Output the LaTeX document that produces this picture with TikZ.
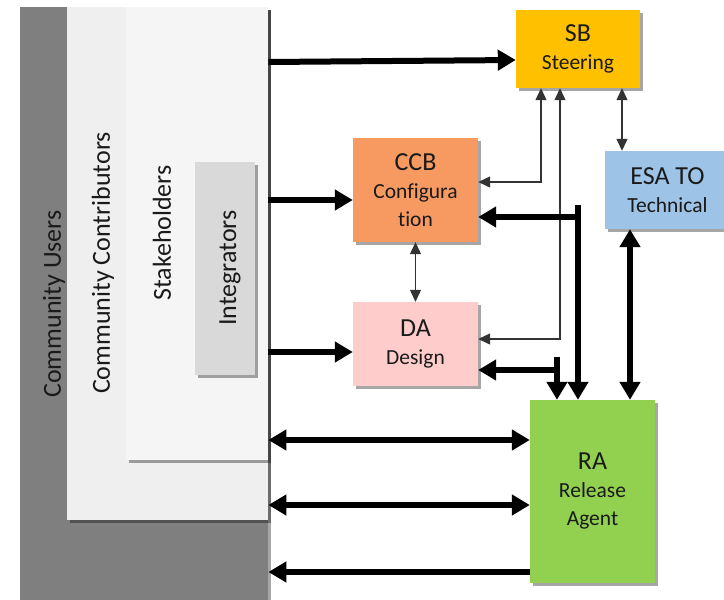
\documentclass[tikz,border=0pt]{standalone}
\usepackage{fontspec}
\setmainfont{Carlito}[Ligatures=NoCommon]
\usetikzlibrary{arrows.meta,shadows,calc}
\definecolor{usersc}{HTML}{7F7F7F}
\definecolor{contribc}{HTML}{EFEFEF}
\definecolor{stakec}{HTML}{F5F5F5}
\definecolor{integc}{HTML}{D9D9D9}
\definecolor{sbc}{HTML}{FFC000}
\definecolor{ccbc}{HTML}{F79A62}
\definecolor{esac}{HTML}{9DC3E6}
\definecolor{dac}{HTML}{FFCCCC}
\definecolor{rac}{HTML}{92D050}
\definecolor{txtc}{HTML}{1A1A1A}
\newcommand\bigtxt{\fontsize{26}{28}\selectfont}
\newcommand\smtxt{\fontsize{21.5}{28}\selectfont}
\newcommand\lbltxt{\fontsize{26}{28}\selectfont}
\begin{document}
\begin{tikzpicture}[x=1pt,y=-1pt,
  shad/.style={drop shadow={shadow xshift=3pt,shadow yshift=-3pt,fill=black,opacity=0.35}},
  lbox/.style={shad,draw=none,inner sep=0pt,anchor=north west},
  rbox/.style={shad,draw=none,inner sep=0pt,align=center,text=txtc,font=\smtxt},
  lbl/.style={rotate=90,text=txtc,font=\lbltxt,inner sep=0pt},
  thk/.style={line width=6pt,-{Triangle[length=18pt,width=20pt]}},
  thkd/.style={line width=6pt,{Triangle[length=18pt,width=20pt]}-{Triangle[length=18pt,width=20pt]}},
  thn/.style={line width=1.2pt,draw=black!80,{Triangle[length=12pt,width=11pt]}-{Triangle[length=12pt,width=11pt]}}
]
\useasboundingbox (0,0) rectangle (724,600);
\clip (0,0) rectangle (724,600);
\fill[white] (0,0) rectangle (724,600);

% left nested boxes
\node[lbox,fill=usersc,minimum width=248pt,minimum height=620pt] (users) at (20,7) {};
\node[lbox,fill=contribc,minimum width=201pt,minimum height=513pt] (contrib) at (67,7) {};
\node[lbox,fill=stakec,minimum width=142pt,minimum height=453pt] (stake) at (126,7) {};
\node[lbox,fill=integc,minimum width=60pt,minimum height=213pt] (integ) at (195,162) {};

\node[lbl] (usersL) at (54,304) {Community Users};
\node[lbl] (contribL) at (103,263) {Community Contributors};
\node[lbl] (stakeL) at (162,233) {Stakeholders};
\node[lbl] (integL) at (230,268) {Integrators};

% right boxes
\node[rbox,fill=sbc,minimum width=124pt,minimum height=78pt] (sb) at (578,49) {{\bigtxt SB}\\Steering};
\node[rbox,fill=ccbc,minimum width=125pt,minimum height=104pt] (ccb) at (415.5,190) {{\bigtxt CCB}\\Configura\\tion};
\node[rbox,fill=esac,minimum width=125pt,minimum height=78pt] (esa) at (667.5,190) {{\bigtxt ESA TO}\\Technical};
\node[rbox,fill=dac,minimum width=125pt,minimum height=84pt] (da) at (415.5,344) {{\bigtxt DA}\\Design};
\node[rbox,fill=rac,minimum width=125pt,minimum height=183pt] (ra) at (592.5,491.5) {{\bigtxt RA}\\Release\\Agent};

% port coordinates
\coordinate (p1) at ([yshift=-55pt]stake.north east);
\coordinate (p2) at ([yshift=-10pt]ccb.west);
\coordinate (p3) at ([yshift=-8pt]da.west);
\coordinate (p4) at ([yshift=51.5pt]ra.west);
\coordinate (p5) at ([yshift=-13.5pt]ra.west);
\coordinate (p6) at ([yshift=-80.5pt]ra.west);

% left connectors
\draw[thk] (p1) -- ([yshift=-11pt]sb.west);
\draw[thk] (p2 -| stake.east) -- (p2);
\draw[thk] (p3 -| stake.east) -- (p3);
\draw[thkd] (p4 -| stake.east) -- (p4);
\draw[thkd] (p5 -| contrib.east) -- (p5);
\draw[thk] (p6) -- (p6 -| users.east);

% thin connectors
\draw[thn] ([xshift=-37pt]sb.south) |- ([yshift=8pt]ccb.east);
\draw[thn] ([xshift=-18pt]sb.south) |- ([yshift=5pt]da.east);
\draw[thn] ([xshift=44pt]sb.south) -- ([xshift=44pt]sb.south |- esa.north);
\draw[thn] (ccb.south) -- (da.north);

% thick connectors from RA
\coordinate (cT) at (578,205);
\coordinate (cJ) at (578,217);
\draw[thk] (cT) -- (cT |- ra.north);
\draw[thk] (cJ) -- (cJ -| ccb.east);
\coordinate (dT) at (557,357);
\coordinate (dJ) at (557,370);
\draw[thk] (dT) -- (dT |- ra.north);
\draw[thk] (dJ) -- (dJ -| da.east);
\draw[thkd] ([xshift=-37.5pt]esa.south) -- ([xshift=-37.5pt]esa.south |- ra.north);
\end{tikzpicture}
\end{document}
